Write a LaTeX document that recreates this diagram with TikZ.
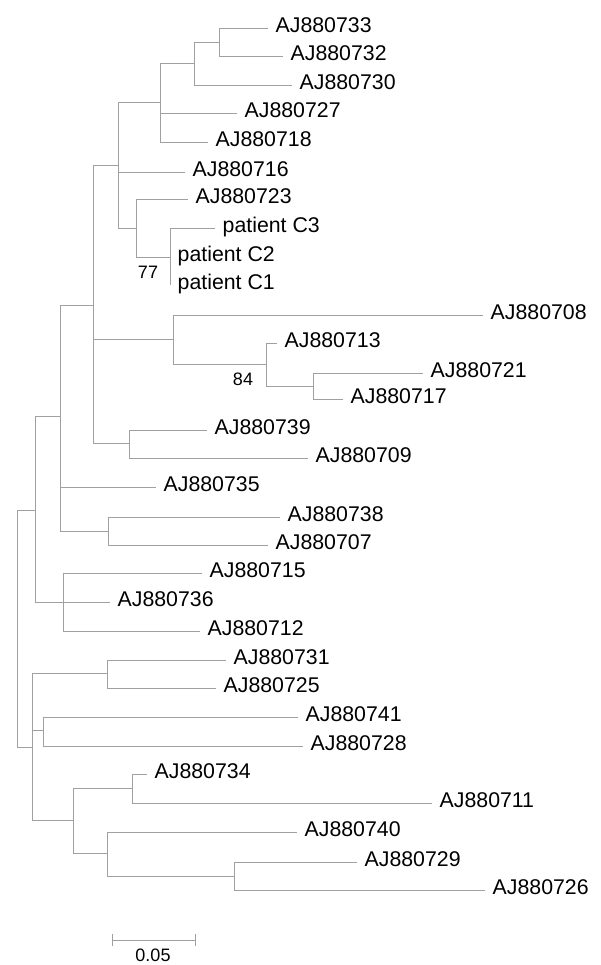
\documentclass[tikz,border=0pt]{standalone}
\usepackage{fontspec}
\setmainfont{Liberation Sans}
\definecolor{branchgray}{RGB}{160,160,160}
\begin{document}
\begin{tikzpicture}[x=1pt,y=-1pt,
  branch/.style={draw=branchgray,line width=0.9pt},
  leaflabel/.style={anchor=base west,inner sep=0pt,xshift=7.5pt,yshift=-4.5pt,font=\fontsize{21.3}{25}\selectfont},
  bootlabel/.style={inner sep=0pt,font=\fontsize{18}{21}\selectfont}]
\useasboundingbox (0,0) rectangle (600,965);
% leaf ends
\foreach \n/\x/\y in {733/268/28,732/283/56,730/292/85,727/237/113,718/208/142,716/185/172,723/188/199,
  C3/215/228,C2/170/257,C1/170/285,708/483/315,713/277/343,721/423/373,717/343/399,739/207/430,709/308/458,
  735/156/487,738/280/517,707/268/545,715/202/573,736/110/602,712/200/631,731/226/660,725/216/688,
  741/298/717,728/303/746,734/147/774,711/432/803,740/297/832,729/357/862,726/485/890}
  \coordinate (l\n) at (\x,\y);
% internal nodes
\foreach \n/\x/\y in {A/219/42,B/194/63,C/160/102,F/136/228,G/170/257,E/118/165,K/266/364,L/313/386,
  I/173/339,J/129/443,H/93/305,N/108/531,M/60/416,P/63/602,O/35/510,R/107/673,S/43/730,U/132/788,
  W/234/876,V/107/853,T/73/820,Q/32/747,root/17/628}
  \coordinate (n\n) at (\x,\y);
% branches
\foreach \p/\c in {nA/l733,nA/l732,nB/nA,nB/l730,nC/nB,nC/l727,nC/l718,nG/lC3,nG/lC2,nG/lC1,
  nF/l723,nF/nG,nE/nC,nE/l716,nE/nF,nL/l721,nL/l717,nK/l713,nK/nL,nI/l708,nI/nK,nJ/l739,nJ/l709,
  nH/nE,nH/nI,nH/nJ,nN/l738,nN/l707,nM/nH,nM/l735,nM/nN,nP/l715,nP/l736,nP/l712,nO/nM,nO/nP,
  nR/l731,nR/l725,nS/l741,nS/l728,nU/l734,nU/l711,nW/l729,nW/l726,nV/l740,nV/nW,nT/nU,nT/nV,
  nQ/nR,nQ/nS,nQ/nT,nroot/nO,nroot/nQ}
  \draw[branch] (\p) |- (\c);
% leaf labels
\foreach \n in {733,732,730,727,718,716,723,708,713,721,717,739,709,735,738,707,715,736,712,
  731,725,741,728,734,711,740,729,726}
  \node[leaflabel] (t\n) at (l\n) {AJ880\n};
\node[leaflabel] (tC3) at (lC3) {patient C3};
\node[leaflabel] (tC2) at (lC2) {patient C2};
\node[leaflabel] (tC1) at (lC1) {patient C1};
% bootstrap values
\node[bootlabel] (b77) at (148,272) {77};
\node[bootlabel] (b84) at (243,379) {84};
% scale bar
\coordinate (sa) at (112,940);
\coordinate (sb) at (195,940);
\draw[branch] (sa) -- (sb);
\draw[branch] ([yshift=-6pt]sa) -- ([yshift=6pt]sa);
\draw[branch] ([yshift=-6pt]sb) -- ([yshift=6pt]sb);
\node[bootlabel] (scale) at (153,955) {0.05};
\end{tikzpicture}
\end{document}
